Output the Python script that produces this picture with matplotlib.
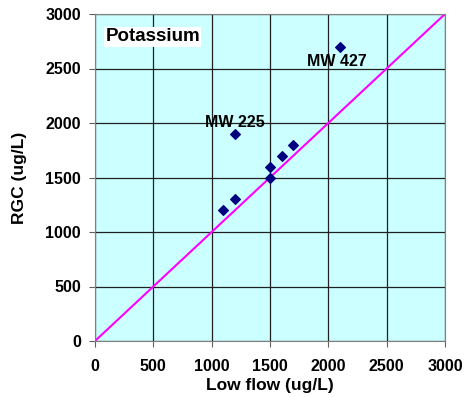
import matplotlib
matplotlib.use("Agg")
import matplotlib.pyplot as plt

low_flow = [1100, 1200, 1200, 1500, 1500, 1600, 1700, 2100]
rgc = [1200, 1300, 1900, 1500, 1600, 1700, 1800, 2700]
ticks = [0, 500, 1000, 1500, 2000, 2500, 3000]
labels = [("MW 225", 1200, 1900), ("MW 427", 2100, 2700)]

plt.rcParams['font.family'] = ['Liberation Sans', 'DejaVu Sans']
fig = plt.figure(figsize=(4.68, 3.97), dpi=100)
ax = fig.add_axes([95/468, 56/397, 350/468, 327/397])
ax.set_facecolor('#ccffff')
ax.set_xlim(0, 3000)
ax.set_ylim(0, 3000)
ax.set_xticks(ticks)
ax.set_yticks(ticks)
ax.set_xticklabels([str(t) for t in ticks], fontweight='bold', fontsize=11.5)
ax.set_yticklabels([str(t) for t in ticks], fontweight='bold', fontsize=11.5)
ax.grid(True, color='#202020', linewidth=0.9)
ax.set_axisbelow(True)
for s in ax.spines.values():
    s.set_color('#808080')
ax.tick_params(direction='out', length=4, color='#606060')
ax.tick_params(axis='x', pad=9)
ax.tick_params(axis='y', pad=6)

ax.plot([0, 3000], [0, 3000], color='#ff00ff', linewidth=1.5, zorder=2)
ax.scatter(low_flow, rgc, marker='D', s=24, color='#000080', zorder=3)

ax.annotate(labels[0][0], (labels[0][1], labels[0][2]), xytext=(0, 3), textcoords='offset points',
            ha='center', va='bottom', fontweight='bold', fontsize=11.5)
ax.annotate(labels[1][0], (labels[1][1], labels[1][2]), xytext=(-2, -5), textcoords='offset points',
            ha='center', va='top', fontweight='bold', fontsize=11.5)

ax.text(0.03, 0.93, 'Potassium', transform=ax.transAxes, fontweight='bold', fontsize=13.5,
        va='center', ha='left', bbox=dict(facecolor='white', edgecolor='none', pad=1))

ax.set_xlabel('Low flow (ug/L)', fontweight='bold', fontsize=12.5, labelpad=2.5)
ax.set_ylabel('RGC (ug/L)', fontweight='bold', fontsize=12.5, labelpad=13)

fig.savefig('out.png', dpi=100)
